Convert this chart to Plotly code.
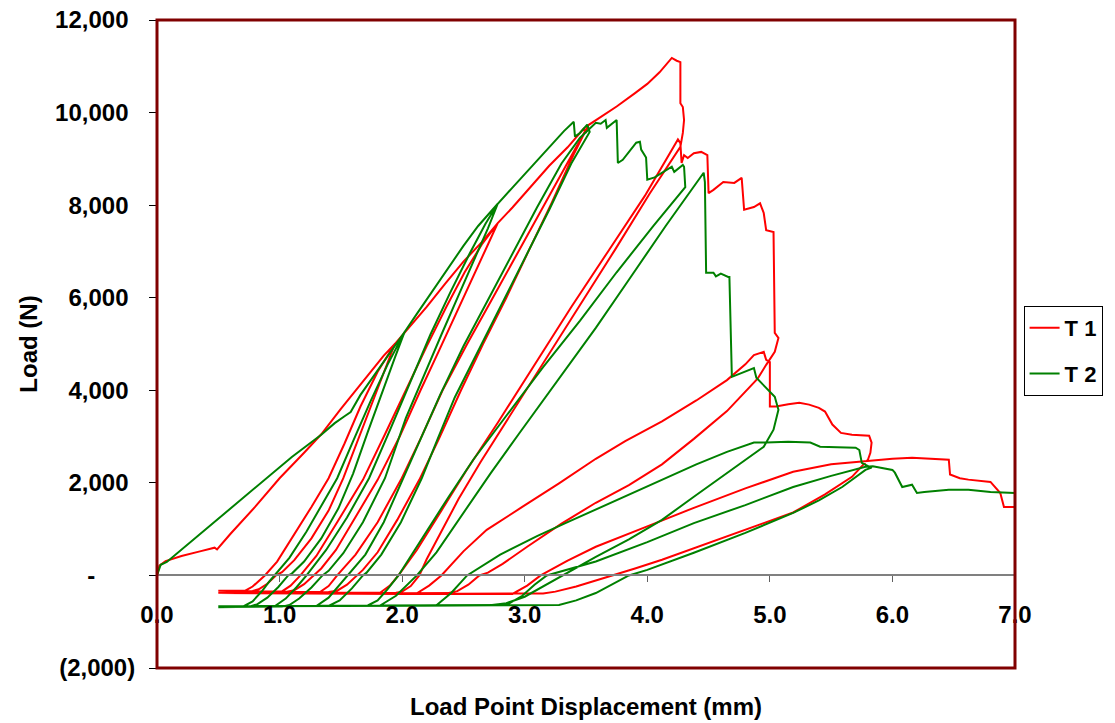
import plotly.graph_objects as go

# ---------------- T 1 (red) : load-displacement path ----------------
r_env0 = [(0, 0), (0.02, 210), (0.07, 310), (0.20, 420), (0.35, 520), (0.47, 600), (0.49, 560), (0.60, 900),
          (0.80, 1480), (1.00, 2100), (1.20, 2650), (1.34, 3050), (1.50, 3600), (1.70, 4250), (1.85, 4750), (1.94, 5000)]
r_u1 = [(1.94, 5000), (1.86, 4450), (1.75, 3700), (1.63, 2850), (1.52, 2100), (1.40, 1400), (1.26, 800), (1.12, 330),
        (1.02, 70), (0.97, 0), (0.90, -180), (0.83, -300), (0.78, -335)]
r_bl1 = [(0.65, -340), (0.50, -330), (0.62, -325), (0.72, -330)]
r_r1 = [(0.72, -330), (0.78, -240), (0.84, -90), (0.88, 0), (0.98, 300), (1.12, 880), (1.26, 1480), (1.40, 2100),
        (1.53, 2850), (1.66, 3650), (1.80, 4400), (1.94, 5000)]
r_env1 = [(2.05, 5330), (2.20, 5800), (2.35, 6300), (2.50, 6780), (2.65, 7200), (2.73, 7450), (2.78, 7610)]
r_u2 = [(2.78, 7610), (2.70, 7150), (2.58, 6450), (2.45, 5700), (2.30, 4850), (2.15, 4000), (1.98, 3000), (1.80, 2065),
        (1.62, 1250), (1.46, 550), (1.34, 150), (1.28, 0), (1.20, -190), (1.12, -320), (1.06, -350)]
r_bl2 = [(0.80, -355), (0.50, -345), (0.80, -340), (1.02, -345)]
r_r2 = [(1.02, -345), (1.09, -220), (1.17, 0), (1.30, 420), (1.47, 1150), (1.68, 2065), (1.86, 3050), (2.03, 4000),
        (2.20, 4950), (2.36, 5800), (2.51, 6550), (2.65, 7150), (2.78, 7610)]
r_env2 = [(2.90, 7950), (3.05, 8400), (3.20, 8850), (3.35, 9250), (3.45, 9550), (3.48, 9650), (3.50, 9590), (3.52, 9730)]
r_u3 = [(3.52, 9730), (3.40, 9100), (3.22, 8050), (3.03, 7000), (2.85, 6000), (2.66, 5000), (2.48, 4000), (2.30, 2950),
        (2.14, 2065), (1.96, 1200), (1.80, 500), (1.68, 120), (1.63, 0), (1.55, -200), (1.47, -330), (1.40, -360)]
r_bl3 = [(1.00, -365), (0.50, -355), (1.00, -355), (1.33, -360)]
r_r3 = [(1.33, -360), (1.40, -230), (1.47, 0), (1.62, 450), (1.80, 1150), (1.99, 2065), (2.15, 2950), (2.33, 4000),
        (2.53, 5000), (2.74, 6000), (2.95, 7000), (3.16, 8000), (3.35, 8900), (3.52, 9730)]
r_env3 = [(3.60, 9870), (3.75, 10130), (3.90, 10420), (4.00, 10620), (4.10, 10870), (4.20, 11180), (4.24, 11120),
          (4.27, 11090), (4.27, 10200), (4.29, 10120), (4.30, 9840), (4.29, 9560), (4.27, 9260)]
r_u4 = [(4.27, 9260), (4.02, 8250), (3.74, 7050), (3.44, 5800), (3.14, 4550), (2.87, 3400), (2.64, 2450), (2.46, 1650),
        (2.31, 900), (2.20, 350), (2.14, 0), (2.07, -230), (2.00, -350), (1.95, -375)]
r_bl4 = [(1.20, -380), (0.50, -360), (1.20, -370), (1.82, -375)]
r_r4 = [(1.82, -375), (1.90, -220), (1.97, 0), (2.12, 550), (2.32, 1400), (2.52, 2250), (2.78, 3300), (3.08, 4550),
        (3.38, 5800), (3.68, 7000), (3.98, 8200), (4.25, 9420)]
r_peak4 = [(4.27, 9340), (4.28, 8910), (4.30, 9080), (4.33, 9020), (4.38, 9120), (4.44, 9150), (4.46, 9120), (4.49, 9080),
           (4.50, 8260), (4.54, 8330), (4.62, 8500), (4.71, 8480), (4.77, 8590), (4.79, 7900), (4.87, 7960), (4.92, 8040),
           (4.95, 7830), (4.97, 7460), (5.03, 7420), (5.04, 5240), (5.07, 5130)]
r_u5 = [(5.07, 5130), (5.04, 4830), (4.97, 4550), (4.90, 4250), (4.65, 3550), (4.38, 2950), (4.12, 2400), (3.85, 1950),
        (3.58, 1570), (3.30, 1120), (3.02, 620), (2.82, 250), (2.70, 60), (2.63, 0), (2.54, -200), (2.45, -340), (2.38, -380)]
r_bl5 = [(1.50, -385), (0.50, -370), (1.50, -380), (2.12, -385)]
r_r5 = [(2.12, -385), (2.22, -220), (2.32, 0), (2.50, 520), (2.69, 985), (2.98, 1480), (3.28, 1990), (3.58, 2520),
        (3.82, 2900), (4.12, 3330), (4.40, 3780), (4.65, 4220), (4.80, 4560), (4.87, 4760), (4.95, 4830), (4.97, 4660),
        (5.00, 4610), (5.00, 3650)]
r_plat5 = [(5.05, 3650), (5.15, 3700), (5.24, 3730), (5.32, 3690), (5.40, 3620), (5.45, 3540), (5.51, 3260), (5.58, 3080),
           (5.67, 3040), (5.81, 3020), (5.83, 2870), (5.82, 2650), (5.80, 2500)]
r_u6 = [(5.80, 2500), (5.67, 2130), (5.45, 1750), (5.19, 1360), (4.90, 1080), (4.65, 850), (4.38, 590), (4.12, 340),
        (3.90, 150), (3.71, 0), (3.58, -100), (3.42, -240), (3.25, -350), (3.15, -390)]
r_bl6 = [(2.00, -400), (0.50, -380), (2.00, -395), (2.90, -400)]
r_r6 = [(2.90, -400), (3.02, -220), (3.13, 0), (3.35, 320), (3.58, 620), (4.00, 1060), (4.38, 1460), (4.80, 1880),
        (5.19, 2240), (5.50, 2400), (5.73, 2460), (5.84, 2480)]
r_tail = [(6.00, 2520), (6.16, 2540), (6.30, 2520), (6.46, 2500), (6.47, 2180), (6.55, 2100), (6.62, 2070), (6.80, 2020),
          (6.88, 1780), (6.91, 1480), (7.00, 1480)]

# ---------------- T 2 (green) ----------------
g_env0 = [(0, 0), (0.03, 230), (0.08, 290), (0.30, 780), (0.60, 1440), (0.90, 2100), (1.10, 2560), (1.34, 3040),
          (1.45, 3290), (1.53, 3440), (1.58, 3530), (1.66, 3900), (1.74, 4200), (1.82, 4500), (1.92, 4880), (2.02, 5260)]
g_u1 = [(2.02, 5260), (1.94, 4700), (1.84, 3980), (1.72, 3100), (1.60, 2200), (1.48, 1450), (1.34, 800), (1.20, 300),
        (1.10, 40), (1.07, 0), (0.99, -250), (0.90, -480), (0.82, -620), (0.76, -670)]
g_bl1 = [(0.65, -680), (0.50, -685), (0.62, -680), (0.70, -675)]
g_r1 = [(0.70, -675), (0.78, -560), (0.86, -330), (0.92, -120), (0.96, 0), (1.08, 380), (1.22, 950), (1.35, 1550),
        (1.47, 2100), (1.60, 2900), (1.74, 3750), (1.88, 4550), (2.02, 5260)]
g_env1 = [(2.12, 5650), (2.25, 6150), (2.38, 6650), (2.50, 7120), (2.62, 7550), (2.72, 7850), (2.78, 8030)]
g_u2 = [(2.78, 8030), (2.70, 7500), (2.59, 6850), (2.46, 6050), (2.32, 5200), (2.18, 4350), (2.03, 3400), (1.86, 2100),
        (1.68, 1150), (1.52, 480), (1.40, 100), (1.35, 0), (1.26, -260), (1.16, -500), (1.08, -640), (1.02, -675)]
g_bl2 = [(0.80, -680), (0.50, -680), (0.80, -670), (0.96, -665)]
g_r2 = [(0.96, -665), (1.05, -500), (1.14, -250), (1.22, 0), (1.38, 550), (1.55, 1250), (1.73, 2100), (1.91, 3200),
        (2.07, 4200), (2.23, 5200), (2.39, 6100), (2.55, 6950), (2.68, 7600), (2.78, 8030)]
g_env2 = [(2.90, 8380), (3.05, 8820), (3.20, 9250), (3.32, 9600), (3.40, 9800), (3.41, 9480), (3.45, 9560), (3.49, 9690),
          (3.51, 9740), (3.53, 9580)]
g_u3 = [(3.53, 9580), (3.38, 8900), (3.20, 7900), (3.00, 6850), (2.80, 5800), (2.61, 4800), (2.43, 3850), (2.29, 2950),
        (2.16, 2100), (1.99, 1150), (1.83, 450), (1.71, 60), (1.68, 0), (1.59, -280), (1.49, -540), (1.40, -660)]
g_bl3 = [(1.00, -670), (0.50, -680), (1.00, -665), (1.30, -660)]
g_r3 = [(1.30, -660), (1.40, -480), (1.48, -230), (1.55, 0), (1.70, 450), (1.85, 1150), (2.01, 2100), (2.15, 2950),
        (2.31, 3900), (2.50, 4950), (2.70, 5950), (2.90, 6950), (3.10, 7950), (3.30, 8900), (3.45, 9450), (3.58, 9780),
        (3.62, 9760)]
g_env3 = [(3.66, 9840), (3.67, 9670), (3.75, 9840), (3.76, 8910), (3.80, 8980), (3.91, 9350), (3.94, 9370), (3.95, 9200),
          (3.99, 9030), (4.00, 8550), (4.06, 8600), (4.12, 8700), (4.20, 8830), (4.22, 8720), (4.29, 8870), (4.30, 8830),
          (4.31, 8390)]
g_u4 = [(4.31, 8390), (4.05, 7550), (3.75, 6550), (3.45, 5500), (3.15, 4500), (2.85, 3450), (2.58, 2500), (2.38, 1700),
        (2.20, 950), (2.06, 380), (1.97, 0), (1.88, -300), (1.80, -540), (1.72, -650)]
g_bl4 = [(1.20, -660), (0.50, -675), (1.20, -655), (1.82, -650)]
g_r4 = [(1.82, -650), (1.95, -440), (2.04, -200), (2.12, 0), (2.28, 500), (2.50, 1350), (2.72, 2200), (2.95, 3050),
        (3.25, 4150), (3.58, 5350), (3.84, 6350), (4.15, 7550), (4.46, 8700)]
g_drop4 = [(4.47, 8500), (4.48, 6540), (4.54, 6540), (4.56, 6460), (4.60, 6520), (4.66, 6450), (4.67, 6450), (4.69, 4290),
           (4.78, 4380), (4.87, 4480), (4.89, 4270), (4.97, 4050), (5.04, 3860), (5.07, 3580), (5.03, 3150), (4.95, 2780)]
g_u5 = [(4.95, 2780), (4.65, 2220), (4.38, 1700), (4.12, 1200), (3.85, 780), (3.58, 400), (3.31, 0), (3.15, -250),
        (3.00, -460), (2.85, -600), (2.70, -650)]
g_bl5 = [(1.50, -660), (0.50, -670), (1.50, -650), (2.28, -645)]
g_r5 = [(2.28, -645), (2.40, -380), (2.53, 0), (2.80, 450), (3.10, 850), (3.35, 1150), (3.58, 1420), (3.85, 1750),
        (4.12, 2070), (4.40, 2400), (4.65, 2670), (4.87, 2870), (4.97, 2870), (5.15, 2890), (5.33, 2870), (5.41, 2780),
        (5.55, 2770), (5.70, 2760), (5.73, 2710), (5.75, 2430), (5.81, 2350), (5.83, 2330)]
g_u6 = [(5.83, 2330), (5.78, 2280), (5.59, 1910), (5.40, 1620), (5.19, 1350), (4.80, 920), (4.38, 490), (4.00, 120),
        (3.85, 0), (3.58, -380), (3.42, -540), (3.28, -640)]
g_bl6 = [(1.80, -650), (0.50, -665), (1.80, -645), (2.85, -640)]
g_r6 = [(2.85, -640), (2.98, -440), (3.08, -200), (3.18, 0), (3.35, 130), (3.58, 300), (4.00, 720), (4.38, 1130),
        (4.80, 1520), (5.19, 1910), (5.50, 2150), (5.78, 2350), (5.84, 2360)]
g_tail = [(6.00, 2280), (6.02, 2220), (6.08, 1910), (6.16, 1960), (6.20, 1780), (6.26, 1800), (6.46, 1850), (6.62, 1850),
          (6.80, 1800), (7.00, 1780)]

t1_segments = [r_env0, r_u1, r_bl1, r_r1, r_env1, r_u2, r_bl2, r_r2, r_env2, r_u3, r_bl3, r_r3, r_env3, r_u4,
               r_bl4, r_r4, r_peak4, r_u5, r_bl5, r_r5, r_plat5, r_u6, r_bl6, r_r6, r_tail]
t2_segments = [g_env0, g_u1, g_bl1, g_r1, g_env1, g_u2, g_bl2, g_r2, g_env2, g_u3, g_bl3, g_r3, g_env3, g_u4,
               g_bl4, g_r4, g_drop4, g_u5, g_bl5, g_r5, g_u6, g_bl6, g_r6, g_tail]

x_ticks = [0, 1, 2, 3, 4, 5, 6, 7]
x_tick_text = ["0.0", "1.0", "2.0", "3.0", "4.0", "5.0", "6.0", "7.0"]
y_ticks = [-2000, 0, 2000, 4000, 6000, 8000, 10000, 12000]
NB = "\u00a0"
y_tick_text = ["(2,000)", "-" + NB * 6, "2,000" + NB, "4,000" + NB, "6,000" + NB, "8,000" + NB,
               "10,000" + NB, "12,000" + NB]


def flatten(segments):
    xs, ys = [], []
    for seg in segments:
        for px, py in seg:
            xs.append(px)
            ys.append(py)
    return xs, ys


t1_x, t1_y = flatten(t1_segments)
t2_x, t2_y = flatten(t2_segments)

FONT = "Liberation Sans, Arial, sans-serif"

fig = go.Figure()
fig.add_trace(go.Scatter(x=t1_x, y=t1_y, mode="lines", name="T 1", legendgroup="a",
                         line=dict(color="#FF0000", width=2)))
fig.add_trace(go.Scatter(x=t2_x, y=t2_y, mode="lines", name="T 2", legendgroup="b",
                         line=dict(color="#008000", width=2)))

fig.update_layout(
    template="none",
    width=1115, height=723,
    margin=dict(l=157, r=91, t=20, b=55, pad=0),
    paper_bgcolor="white", plot_bgcolor="white",
    font=dict(family=FONT, size=24, color="black", weight="bold"),
    showlegend=True,
    legend=dict(x=1.01, y=0.5586, xanchor="left", yanchor="top",
                bordercolor="black", borderwidth=1, bgcolor="white",
                font=dict(family=FONT, size=22, color="black", weight="bold"),
                traceorder="grouped", tracegroupgap=14),
    xaxis=dict(range=[0, 7], tickmode="array", tickvals=x_ticks, ticktext=x_tick_text,
               anchor="free", position=2000 / 14000,
               showline=True, linecolor="#808080", linewidth=2,
               ticks="outside", ticklen=6, tickcolor="#606060", tickwidth=1,
               showgrid=False, zeroline=False, automargin=False,
               tickfont=dict(family=FONT, size=24, color="black", weight="bold"),
               ticklabelstandoff=12,
               title=dict(text="Load Point Displacement (mm)", standoff=70,
                          font=dict(family=FONT, size=24, color="black", weight="bold"))),
    yaxis=dict(range=[-2000, 12000], tickmode="array", tickvals=y_ticks, ticktext=y_tick_text,
               showline=False, ticks="outside", ticklen=7, tickcolor="black", tickwidth=1,
               showgrid=False, zeroline=False, automargin=False,
               tickfont=dict(family=FONT, size=24, color="black", weight="bold"),
               ticklabelstandoff=9,
               title=dict(text="Load (N)", standoff=10,
                          font=dict(family=FONT, size=24, color="black", weight="bold"))),
    shapes=[dict(type="rect", xref="paper", yref="paper", x0=0, x1=1, y0=0, y1=1,
                 line=dict(color="#800000", width=3), fillcolor="rgba(0,0,0,0)", layer="above")],
)

fig.write_html("out.html")
